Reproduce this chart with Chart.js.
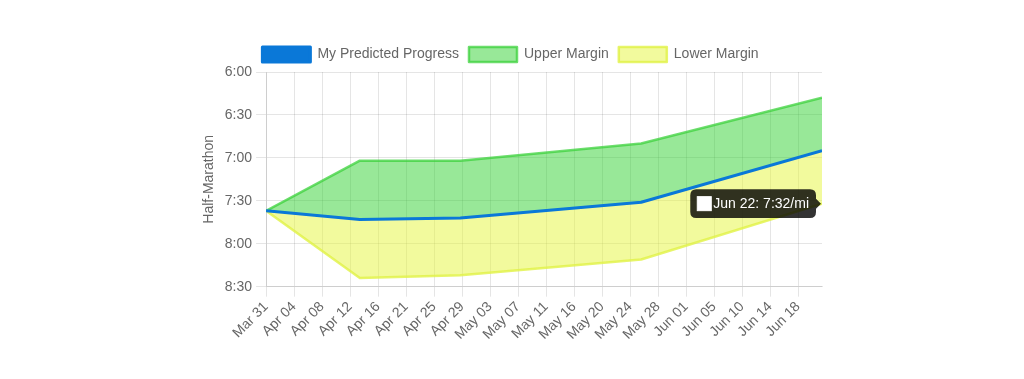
<!DOCTYPE html>
<html>
<head>
<meta charset="utf-8">
<script src="https://cdn.jsdelivr.net/npm/chart.js@4.4.0/dist/chart.umd.min.js"></script>
<style>
html,body{margin:0;padding:0;background:#fff;width:1024px;height:379px;overflow:hidden}
#wrap{position:absolute;left:199px;top:37px;width:627px;height:308px}
</style>
</head>
<body>
<div id="wrap"><canvas id="c"></canvas></div>
<script>
// x-axis tick labels (evenly spaced along the date axis)
const tickLabels = ['Mar 31','Apr 04','Apr 08','Apr 12','Apr 16','Apr 21','Apr 25','Apr 29','May 03','May 07',
                    'May 11','May 16','May 20','May 24','May 28','Jun 01','Jun 05','Jun 10','Jun 14','Jun 18'];
const daysPerLabel = 4.18;
// data points: days since Mar 31, their dates, and paces in seconds per mile
const pointDays   = [0, 14, 29, 56, 83];
const pointDates  = ['Mar 31','Apr 14','Apr 29','May 26','Jun 22'];
const predicted   = [457, 463, 462, 451, 415];
const upperMargin = [457, 422, 422, 410, 378];
const lowerMargin = [457, 504, 502, 491, 452];
// y-axis ticks (seconds per mile)
const paceTicks = [360, 390, 420, 450, 480, 510];

const fmt = s => Math.floor(s / 60) + ':' + String(Math.round(s % 60)).padStart(2, '0');
const pts = arr => arr.map((v, i) => ({x: pointDays[i], y: v}));

Chart.defaults.font.family = '"Liberation Sans", Arial, Helvetica, sans-serif';
Chart.defaults.font.size = 14;
Chart.defaults.color = '#666';

const gridColor = 'rgba(0,0,0,0.1)';

const chart = new Chart(document.getElementById('c'), {
  type: 'line',
  data: {
    datasets: [
      {label: 'My Predicted Progress', data: pts(predicted), borderColor: '#0a78d8', backgroundColor: '#0a78d8',
       borderWidth: 3, fill: false, pointRadius: 0, pointHoverRadius: 0, tension: 0, borderJoinStyle: 'round'},
      {label: 'Upper Margin', data: pts(upperMargin), borderColor: 'rgba(60,210,60,0.75)', backgroundColor: 'rgba(50,210,50,0.5)',
       borderWidth: 2.5, fill: 0, pointRadius: 0, pointHoverRadius: 0, tension: 0, borderJoinStyle: 'round'},
      {label: 'Lower Margin', data: pts(lowerMargin), borderColor: 'rgba(225,242,70,0.8)', backgroundColor: 'rgba(230,245,60,0.5)',
       borderWidth: 2.5, fill: 0, pointRadius: 0, pointHoverRadius: 0, tension: 0, borderJoinStyle: 'round'}
    ]
  },
  options: {
    responsive: true,
    maintainAspectRatio: false,
    animation: false,
    events: [],
    layout: {padding: {left: 0, right: 4, top: 0, bottom: 0}},
    scales: {
      x: {
        type: 'linear', min: 0, max: pointDays[pointDays.length - 1],
        afterBuildTicks: axis => { axis.ticks = tickLabels.map((_, i) => ({value: i * daysPerLabel})); },
        ticks: {autoSkip: false, minRotation: 45, maxRotation: 45, padding: 2,
                callback: (v, i) => tickLabels[i]},
        grid: {color: gridColor, tickLength: 10},
        border: {color: gridColor}
      },
      y: {
        type: 'linear', reverse: true, min: paceTicks[0], max: paceTicks[paceTicks.length - 1],
        afterBuildTicks: axis => { axis.ticks = paceTicks.map(v => ({value: v})); },
        ticks: {callback: v => fmt(v), padding: 4},
        grid: {color: gridColor, tickLength: 10},
        border: {color: gridColor},
        title: {display: true, text: 'Half-Marathon', font: {size: 14}, color: '#666', padding: {top: 2, bottom: 3}}
      }
    },
    plugins: {
      legend: {
        labels: {boxWidth: 48, boxHeight: 15, padding: 10, font: {size: 14}, color: '#666'}
      },
      tooltip: {
        enabled: true,
        xAlign: 'right', yAlign: 'center',
        backgroundColor: 'rgba(0,0,0,0.8)',
        bodyColor: '#fff',
        bodyFont: {size: 14},
        padding: {x: 7, y: 6},
        caretSize: 5, caretPadding: 1, cornerRadius: 6,
        boxWidth: 14, boxHeight: 14,
        multiKeyBackground: '#fff',
        callbacks: {
          title: () => '',
          label: ctx => pointDates[ctx.dataIndex] + ': ' + fmt(ctx.parsed.y) + '/mi',
          labelColor: () => ({borderColor: '#fff', backgroundColor: '#fff'})
        }
      }
    }
  }
});

const last = pointDays.length - 1;
const el = chart.getDatasetMeta(2).data[last];
chart.tooltip.setActiveElements([{datasetIndex: 2, index: last}], {x: el.x, y: el.y});
chart.update('none');
</script>
</body>
</html>
